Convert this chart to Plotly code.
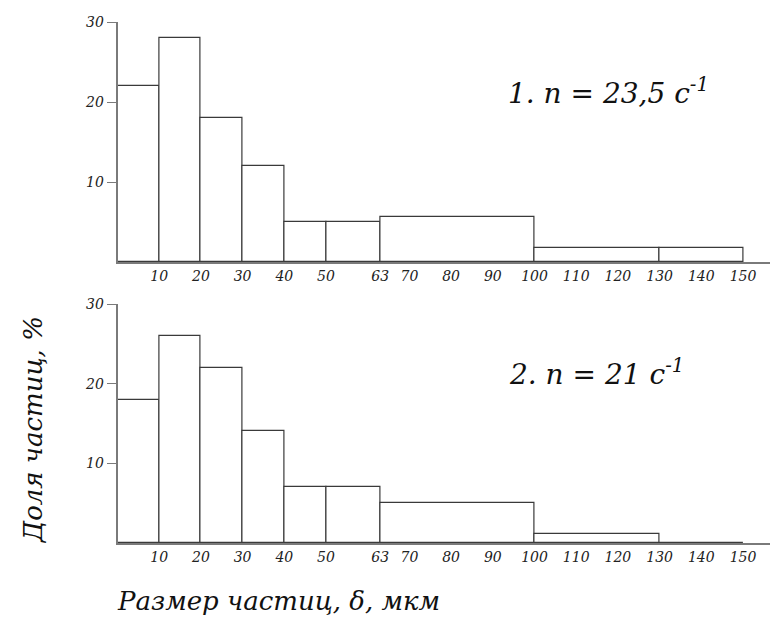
import plotly.graph_objects as go

# Bin edges (particle size, µm)
bin_left = [0, 10, 20, 30, 40, 50, 63, 100, 130]
bin_right = [10, 20, 30, 40, 50, 63, 100, 130, 150]
# Share of particles, % (1: n = 23,5 c-1 ; 2: n = 21 c-1)
share_1 = [22, 28, 18, 12, 5, 5, 5.6, 1.7, 1.7]
share_2 = [18, 26, 22, 14, 7, 7, 5, 1.1, 0]
x_ticks = [10, 20, 30, 40, 50, 63, 70, 80, 90, 100, 110, 120, 130, 140, 150]
y_ticks = [10, 20, 30]

centers = [(a + b) / 2 for a, b in zip(bin_left, bin_right)]
widths = [b - a for a, b in zip(bin_left, bin_right)]

W, H = 778, 628
OFF = 8  # page body offset
FONT = "DejaVu Serif"
bar_line = dict(color="#3a3a3a", width=1.2)

fig = go.Figure()
fig.add_trace(go.Bar(x=centers, y=share_1, width=widths, marker=dict(color="white", line=bar_line),
                     xaxis="x", yaxis="y", showlegend=False))
fig.add_trace(go.Bar(x=centers, y=share_2, width=widths, marker=dict(color="white", line=bar_line),
                     xaxis="x2", yaxis="y2", showlegend=False))

x0_px, x1_px = 117.5 - OFF, 770 - OFF
px_per_unit = 4.17
xmax = (x1_px - x0_px) / px_per_unit
xdom = [x0_px / W, x1_px / W]


def py(v):
    return 1 - (v - OFF) / H


def px(v):
    return (v - OFF) / W


tickfont = dict(family=FONT, size=14, color="#222")
xaxis_common = dict(range=[0, xmax], domain=xdom, tickvals=x_ticks,
                    ticktext=["<i>%d</i>" % v for v in x_ticks],
                    showline=True, linecolor="#7a7a7a", linewidth=1.5, ticks="", showgrid=False,
                    zeroline=False, tickfont=tickfont, automargin=False)
yaxis_common = dict(range=[0, 30], tickvals=y_ticks, ticktext=["<i>%d</i>" % v for v in y_ticks],
                    showline=True, linecolor="#7a7a7a", linewidth=1.5,
                    ticks="outside", ticklen=9, tickcolor="#7a7a7a", tickwidth=1.2, showgrid=False,
                    zeroline=False, tickfont=tickfont, automargin=False)

fig.update_layout(
    width=W, height=H,
    margin=dict(l=0, r=0, t=0, b=0, pad=0, autoexpand=False),
    font=dict(family=FONT),
    paper_bgcolor="white", plot_bgcolor="white",
    bargap=0,
    xaxis=dict(**xaxis_common, anchor="y"),
    yaxis=dict(**yaxis_common, domain=[py(262), py(22)], anchor="x"),
    xaxis2=dict(**xaxis_common, anchor="y2"),
    yaxis2=dict(**yaxis_common, domain=[py(543), py(304)], anchor="x2"),
)

big = dict(family=FONT, size=28, color="#111")
title_font = dict(family=FONT, size=26, color="#111")
fig.add_annotation(text="<i>1. n = 23,5 c<sup>-1</sup></i>", xref="paper", yref="paper",
                   x=px(506), y=py(91), xanchor="left", yanchor="middle", showarrow=False, font=big)
fig.add_annotation(text="<i>2. n = 21 c<sup>-1</sup></i>", xref="paper", yref="paper",
                   x=px(507), y=py(372), xanchor="left", yanchor="middle", showarrow=False, font=big)
fig.add_annotation(text="<i>Размер частиц, δ, мкм</i>", xref="paper", yref="paper",
                   x=px(115), y=py(601), xanchor="left", yanchor="middle", showarrow=False, font=title_font)
fig.add_annotation(text="<i>Доля частиц, %</i>", xref="paper", yref="paper", textangle=-90,
                   x=px(33), y=py(430), xanchor="center", yanchor="middle", showarrow=False, font=title_font)

fig.write_html("out.html")
